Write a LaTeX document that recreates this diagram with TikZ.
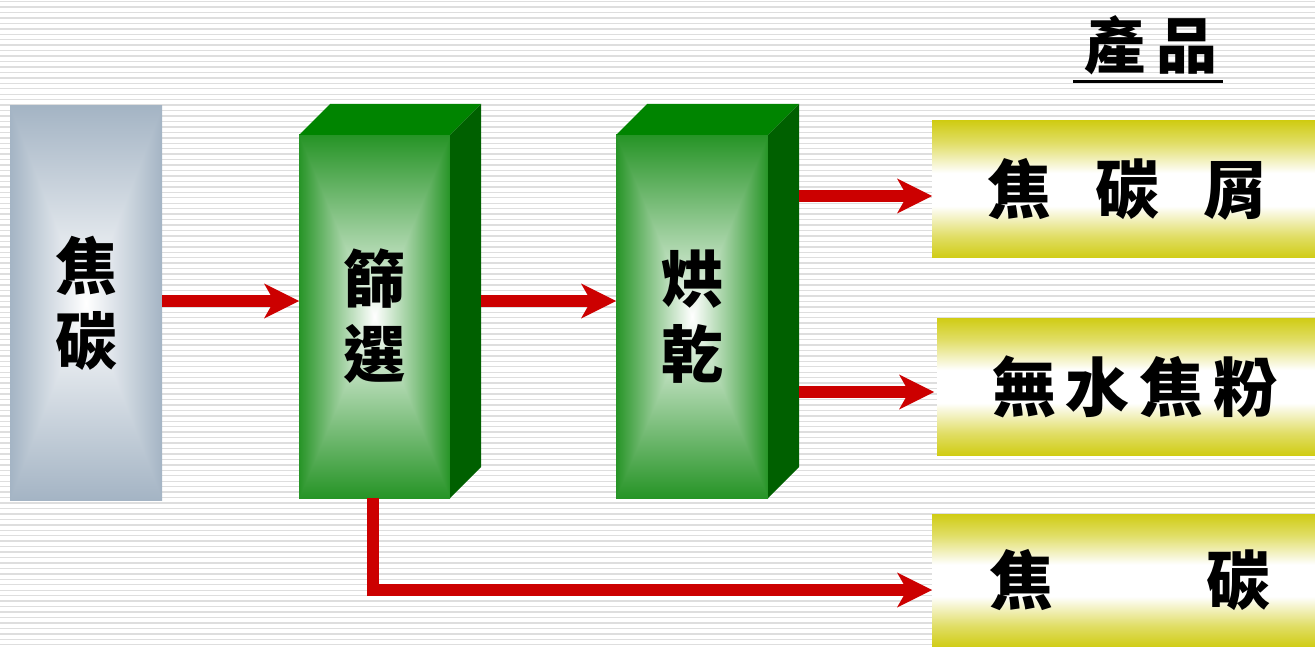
\documentclass[tikz,border=0pt]{standalone}
\usepackage{fontspec}
\newfontfamily\cjk{Noto Sans CJK TC}
\usetikzlibrary{arrows.meta,calc}

\definecolor{arrowred}{RGB}{204,0,0}
\definecolor{greentop}{RGB}{0,132,0}
\definecolor{greenside}{RGB}{0,96,0}
\definecolor{prodyellow}{RGB}{208,204,20}
\definecolor{stripe}{RGB}{222,222,222}

\pgfdeclarefunctionalshading{steelrect}{\pgfpointorigin}{\pgfpoint{100bp}{100bp}}{}{
50 sub abs exch 50 sub abs 2 copy lt {exch} if pop 25 div dup 1 gt {pop 1} if
dup dup 0.357 mul 1 exch sub 3 1 roll 0.294 mul 1 exch sub exch 0.231 mul 1 exch sub}

\pgfdeclarefunctionalshading{greenrect}{\pgfpointorigin}{\pgfpoint{100bp}{100bp}}{}{
50 sub abs exch 50 sub abs 2 copy lt {exch} if pop 25 div dup 1 gt {pop 1} if
dup dup 0.85 mul 1 exch sub 3 1 roll 0.42 mul 1 exch sub exch 0.85 mul 1 exch sub}

\pgfdeclareverticalshading{prodshade}{100bp}{color(0bp)=(prodyellow); color(25bp)=(prodyellow); color(33bp)=(prodyellow!65!white); color(44bp)=(white); color(56bp)=(white); color(67bp)=(prodyellow!65!white); color(75bp)=(prodyellow); color(100bp)=(prodyellow)}

\tikzset{
  every node/.style={inner sep=0pt, outer sep=0pt},
  feedbox/.style={rectangle, shade, shading=steelrect, minimum width=152pt, minimum height=394pt},
  frontbox/.style={rectangle, shade, shading=greenrect, minimum width=151pt, minimum height=363pt},
  prodbox/.style={rectangle, shade, shading=prodshade, minimum height=137pt, minimum width=383pt,
    font=\cjk\bfseries\fontsize{64pt}{64pt}\selectfont},
  flow/.style={draw=arrowred, line width=12pt, line join=miter,
    -{Stealth[length=35pt,width=35pt,inset=10pt,line width=0pt]}},
  vtext/.style={font=\cjk\bfseries\fontsize{62pt}{75pt}\selectfont, align=center},
}

\begin{document}
\begin{tikzpicture}[x=1pt,y=-1pt]
\useasboundingbox (0,0) rectangle (1315,647);
\fill[white] (0,0) rectangle (1315,647);
\foreach \i in {0,...,118} \draw[stripe, line width=1.4pt] (0,1.6+5.45*\i) -- (1315,1.6+5.45*\i);

% feed
\node[feedbox, vtext] (coke) at (86,303) {焦\\碳};

% sieve
\node[frontbox, vtext] (sieve) at (374.5,316.5) {篩\\選};
\fill[greentop] (sieve.north west) -- ++(31,-31) -- ++(151,0) -- (sieve.north east) -- cycle;
\fill[greenside] (sieve.north east) -- ++(31,-31) -- ++(0,363) -- (sieve.south east) -- cycle;

% dryer
\node[frontbox, vtext, minimum width=152pt] (dryer) at (692,316.5) {烘\\乾};
\fill[greentop] (dryer.north west) -- ++(31,-31) -- ++(152,0) -- (dryer.north east) -- cycle;
\fill[greenside] (dryer.north east) -- ++(31,-31) -- ++(0,363) -- (dryer.south east) -- cycle;

% products
\node[font=\cjk\bfseries\fontsize{61pt}{61pt}\selectfont] (title) at (1151,45) {產\hspace{12pt}品};
\draw[line width=3pt] ($(title.center)+(-78,37)$) -- ($(title.center)+(72,37)$);

\node[prodbox] (p1) at (1123.5,189.5) {\hspace*{8pt}焦\hspace{44pt}碳\hspace{44pt}屑};
\node[prodbox, minimum width=378pt] (p2) at (1126,386.5) {\hspace*{18pt}無\hspace{10pt}水\hspace{10pt}焦\hspace{10pt}粉};
\node[prodbox, minimum height=133pt] (p3) at (1123.5,580.5) {\hspace*{13pt}焦\hspace{154pt}碳};

% connectors
\coordinate (sieveR) at ($(sieve.east)+(31,-15.5)$);
\coordinate (dryA) at ($(dryer.north east)+(31,61)$);
\coordinate (dryB) at ($(dryer.north east)+(31,257)$);
\coordinate (p3in) at ($(p3.west)+(0,9.5)$);

\draw[flow] (coke.east |- sieveR) -- (sieve.west |- sieveR);
\draw[flow] (sieveR) -- (dryer.west |- sieveR);
\draw[flow] (dryA) -- (p1.west |- dryA);
\draw[flow] (dryB) -- ($(p2.west |- dryB)+(-3,0)$);
\draw[flow] ($(sieve.south)+(-1.5,0)$) |- (p3in);
\end{tikzpicture}
\end{document}
